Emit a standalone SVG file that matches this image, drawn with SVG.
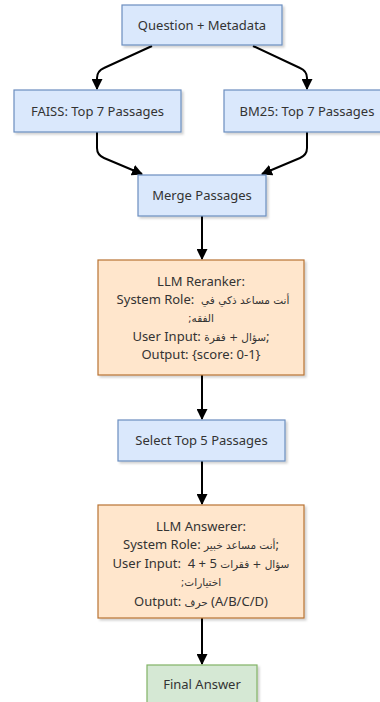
<svg xmlns="http://www.w3.org/2000/svg" width="380" height="702" viewBox="0 0 380 702">
  <defs>
    <filter id="shadow" x="-10%" y="-10%" width="130%" height="140%">
      <feDropShadow dx="2" dy="2" stdDeviation="1" flood-color="#000" flood-opacity="0.18"/>
    </filter>
    <marker id="arrow" viewBox="0 0 10 10" refX="9" refY="5" markerWidth="5.5" markerHeight="5.5" orient="auto" markerUnits="strokeWidth">
      <path d="M0,0 L10,5 L0,10 z" fill="#000"/>
    </marker>
    <style>
      .blue rect { fill: #dae8fc; stroke: #6c8ebf; stroke-width: 1.2; filter: url(#shadow); }
      .orange rect { fill: #ffe6cc; stroke: #b87333; stroke-width: 1.2; filter: url(#shadow); }
      .green rect { fill: #d5e8d4; stroke: #82b366; stroke-width: 1.2; filter: url(#shadow); }
      text { font-family: "Noto Sans", "Open Sans", "DejaVu Sans", sans-serif; font-size: 13px; fill: #333; text-anchor: middle; white-space: pre; }
      .ar { font-family: "DejaVu Sans", sans-serif; font-size: 10.5px; }
      .edge { fill: none; stroke: #000; stroke-width: 2; marker-end: url(#arrow); }
    </style>
  </defs>

  <rect width="380" height="702" fill="#fff"/>

  <!-- connectors -->
  <g id="edges">
    <path class="edge" d="M152,46 L104,68 Q97,71 97,78 L97,89"/>
    <path class="edge" d="M253,46 L300,68 Q307,71 307,78 L307,89"/>
    <path class="edge" d="M97,132 L97,148 Q97,155 104,158 L142,174"/>
    <path class="edge" d="M307,132 L307,148 Q307,155 300,158 L262,174"/>
    <path class="edge" d="M202,216 L202,259"/>
    <path class="edge" d="M202,375 L202,419"/>
    <path class="edge" d="M202,461 L202,504"/>
    <path class="edge" d="M202,618 L202,664"/>
  </g>

  <g id="question" class="blue">
    <rect x="122" y="5" width="160" height="40"/>
    <text x="202" y="29.5">Question + Metadata</text>
  </g>

  <g id="faiss" class="blue">
    <rect x="14" y="90" width="167" height="42"/>
    <text x="97.5" y="115.5">FAISS: Top 7 Passages</text>
  </g>

  <g id="bm25" class="blue">
    <rect x="224" y="90" width="167" height="42"/>
    <text x="307" y="115.5">BM25: Top 7 Passages</text>
  </g>

  <g id="merge" class="blue">
    <rect x="138" y="175" width="128" height="41"/>
    <text x="202" y="200">Merge Passages</text>
  </g>

  <g id="reranker" class="orange">
    <rect x="98" y="260" width="206" height="115"/>
    <text x="201" y="285.5">LLM Reranker:</text>
    <text x="203" y="303.5">System Role:  <tspan class="ar">أنت مساعد ذكي في</tspan></text>
    <text x="201" y="321.5" class="ar">;الفقه</text>
    <text x="201" y="340.5">User Input: <tspan class="ar">سؤال + فقرة</tspan>;</text>
    <text x="201" y="358.5">Output: {score: 0-1}</text>
  </g>

  <g id="select" class="blue">
    <rect x="118" y="420" width="167" height="41"/>
    <text x="201.5" y="445">Select Top 5 Passages</text>
  </g>

  <g id="answerer" class="orange">
    <rect x="98" y="505" width="206" height="113"/>
    <text x="201" y="530.5">LLM Answerer:</text>
    <text x="201" y="548.5">System Role: <tspan class="ar">أنت مساعد خبير</tspan>;</text>
    <text x="201" y="567.5">User Input:  4 + 5 <tspan class="ar">سؤال + فقرات</tspan></text>
    <text x="201" y="585.5" class="ar">;اختيارات</text>
    <text x="201" y="605.5">Output: <tspan class="ar">حرف</tspan> (A/B/C/D)</text>
  </g>

  <g id="final" class="green">
    <rect x="147" y="665" width="110" height="42"/>
    <text x="202" y="688.5">Final Answer</text>
  </g>
</svg>
